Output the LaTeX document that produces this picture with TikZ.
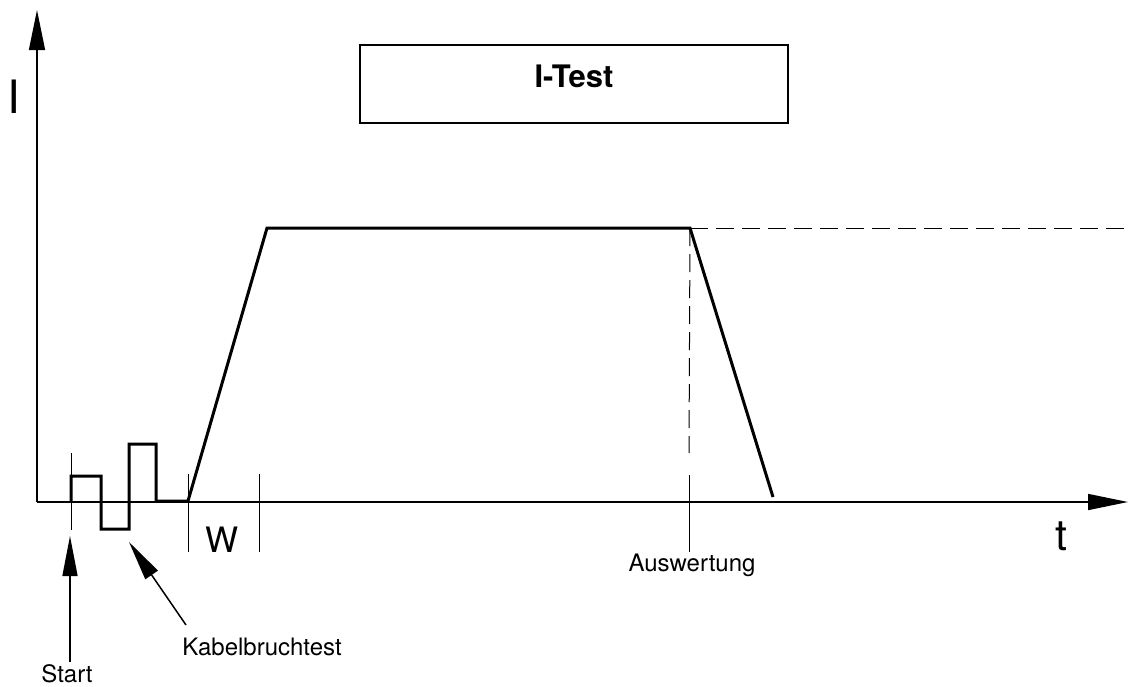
\documentclass[tikz,border=0pt]{standalone}
\usepackage{fontspec}
\setmainfont{TeX Gyre Heros}
\usetikzlibrary{arrows.meta, positioning}
\tikzstyle{myBox} = [rectangle, draw, line width=2.5pt, minimum width=428pt, minimum height=78pt, inner sep=0pt]
\tikzstyle{axis} = [line width=1.5pt, -{Triangle[length=40pt,width=16pt]}]
\tikzstyle{pointer} = [line width=1.5pt, -{Triangle[length=40pt,width=15pt]}]
\tikzstyle{signal} = [line width=3pt, line join=miter]
\tikzstyle{tickLine} = [line width=1pt]
\tikzstyle{guide} = [line width=1pt, dash pattern=on 18pt off 8pt]
\tikzstyle{bigText} = [anchor=base, inner sep=0pt, font=\fontsize{46}{50}\selectfont]
\tikzstyle{myText} = [anchor=base, inner sep=0pt, font=\fontsize{24}{28}\selectfont]

\begin{document}
\begin{tikzpicture}[x=1pt, y=-1pt]
		\useasboundingbox (0,0) rectangle (1129,686);
		% axes
		\coordinate (o) at (37,502);
		\coordinate (yTip) at (37,10);
		\coordinate (xTip) at (1128,502);
		\draw [axis] (o) -- (yTip);
		\draw [axis] (o) -- (xTip);
		\node [bigText] (yLbl) at (14,113) {I};
		\node [bigText,font=\fontsize{43}{48}\selectfont] (xLbl) at (1061,550) {t};
		
		\node [myBox] (test) at (574,84) {};
		\node [anchor=base, inner sep=0pt, font=\fontsize{31}{36}\selectfont\bfseries] (testLbl) at (574,87) {I-Test};
		
		% signal
		\coordinate (s0) at (71,502);
		\coordinate (s1) at (71,476);
		\coordinate (s2) at (101,476);
		\coordinate (s3) at (101,529);
		\coordinate (s4) at (129,529);
		\coordinate (s5) at (129,444);
		\coordinate (s6) at (156,444);
		\coordinate (s7) at (156,501);
		\coordinate (s8) at (188,501);
		\coordinate (top1) at (267,228);
		\coordinate (top2) at (690,228);
		\coordinate (s9) at (773,497);
		\draw [signal] (s0) -- (s1) -- (s2) -- (s3) -- (s4) -- (s5) -- (s6) -- (s7) -- (s8) -- (top1) -- (top2) -- (s9);
		
		% ticks
		\draw [tickLine] (71,453) coordinate (st1) -- (71,530) coordinate (st2);
		\draw [tickLine] (188,474) coordinate (w1) -- (188,552) coordinate (w2);
		\draw [tickLine] (259,474) coordinate (w3) -- (259,552) coordinate (w4);
		\node [myText,font=\fontsize{35}{40}\selectfont] (wLbl) at (222,552) {W};
		\draw [tickLine] (689,475) coordinate (a1) -- (689,552) coordinate (a2);
		\draw [guide] (top2) -- (689,453) coordinate (a0);
		\draw [guide] (top2) -- (1129,228) coordinate (hEnd);
		\node [myText] (auswLbl) at (692,571) {Auswertung};
		
		% pointers
		\node [myText] (startLbl) at (67,682) {Start};
		\coordinate (startTip) at (70,536);
		\coordinate (startTail) at (70,662);
		\draw [pointer] (startTail) -- (startTip);
		\node [myText] (kabLbl) at (262,655) {Kabelbruchtest};
		\coordinate (kabTip) at (129,542);
		\coordinate (kabTail) at (186,625);
		\draw [pointer] (kabTail) -- (kabTip);
		
		\end{tikzpicture}
\end{document}
